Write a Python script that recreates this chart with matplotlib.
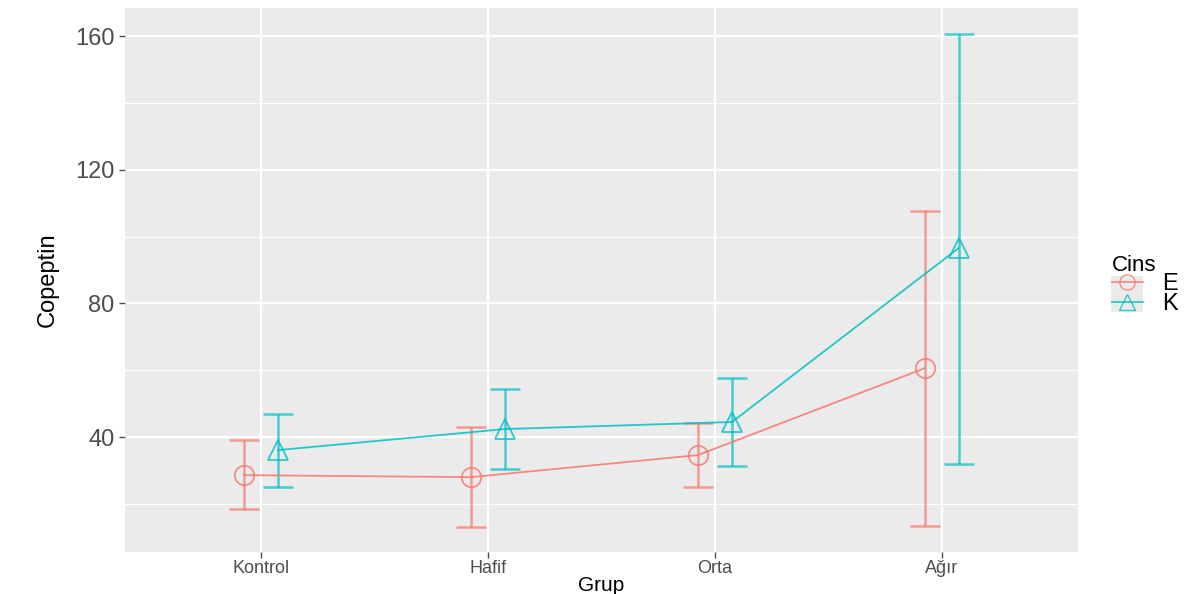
import matplotlib
matplotlib.use("Agg")
import matplotlib.pyplot as plt
from matplotlib.lines import Line2D
from matplotlib.patches import Rectangle
import numpy as np

# Data
groups = ["Kontrol", "Hafif", "Orta", "Ağır"]
e_mean = [28.6, 28.0, 34.6, 60.6]
e_low = [18.5, 13.1, 25.0, 13.4]
e_high = [39.1, 43.0, 44.2, 107.6]
k_mean = [36.1, 42.4, 44.5, 96.6]
k_low = [25.0, 30.4, 31.3, 31.9]
k_high = [46.9, 54.4, 57.7, 160.6]

c_e = "#F8766D"
c_k = "#00BFC4"

plt.rcParams['font.family'] = ['Liberation Sans', 'DejaVu Sans']

fig = plt.figure(figsize=(12.03, 5.94), dpi=100)
ax = fig.add_axes([125 / 1203, 1 - 552 / 594, (1078 - 125) / 1203, (552 - 8) / 594])
ax.set_facecolor("#EBEBEB")

x = np.arange(1, len(groups) + 1)
dodge = 0.075

series = [
    ("E", e_mean, e_low, e_high, c_e, "o", -dodge),
    ("K", k_mean, k_low, k_high, c_k, "^", dodge),
]
for name, m, lo, hi, col, mk, off in series:
    xs = x + off
    m = np.array(m)
    yerr = [m - np.array(lo), np.array(hi) - m]
    ax.errorbar(xs, m, yerr=yerr, fmt="none", ecolor=col, elinewidth=1.8,
                capsize=11, capthick=1.8, alpha=0.7, zorder=3)
    ax.plot(xs, m, color=col, lw=1.3, alpha=0.85, zorder=4)
    ax.plot(xs, m, linestyle="none", marker=mk, markersize=14, mfc="none",
            mec=col, mew=1.3, alpha=0.8, zorder=5)

ax.set_xlim(0.4, 4.6)
ax.set_ylim(5.6, 168.4)
ax.set_xticks(x)
ax.set_xticklabels(groups)
ax.set_yticks([40, 80, 120, 160])
ax.set_yticks([20, 60, 100, 140], minor=True)
ax.grid(which="major", color="white", lw=1.6, zorder=0)
ax.grid(which="minor", axis="y", color="white", lw=0.8, zorder=0)
ax.set_axisbelow(True)
for s in ax.spines.values():
    s.set_visible(False)
ax.tick_params(axis="y", which="major", labelsize=17, colors="#4D4D4D", length=4, width=1)
ax.tick_params(axis="x", which="major", labelsize=13, colors="#4D4D4D", length=4, width=1, pad=2)
ax.tick_params(which="minor", length=0)

ax.set_xlabel("Grup", fontsize=15, labelpad=-1)
ax.set_ylabel("Copeptin", fontsize=17, labelpad=12)

# grey background behind the legend keys, as in ggplot
fig.patches.append(Rectangle((1111 / 1203, 1 - 312 / 594), 32 / 1203, 36 / 594,
                             transform=fig.transFigure, facecolor="#EBEBEB",
                             edgecolor="none", zorder=0))

handles = [
    Line2D([], [], color=c_e, marker="o", mfc="none", markersize=11, lw=1.3, alpha=0.8),
    Line2D([], [], color=c_k, marker="^", mfc="none", markersize=11, lw=1.3, alpha=0.8),
]
leg = fig.legend(handles, ["E", "K"], title="Cins", loc="upper left",
                 bbox_to_anchor=(1095 / 1203, 1 - 238 / 594), frameon=False,
                 fontsize=17, title_fontsize=16, handlelength=1.35,
                 labelspacing=-0.1, handletextpad=0.8, borderpad=0.2)
leg._legend_box.align = "left"

fig.savefig("out.png", dpi=100)
